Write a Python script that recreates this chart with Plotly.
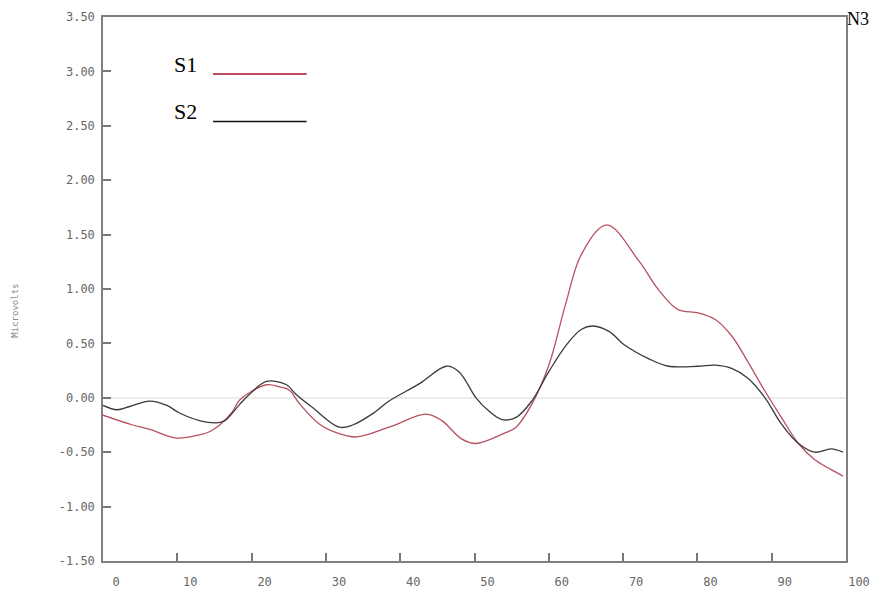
import plotly.graph_objects as go

# Sampled waveforms (time in ms-like units, amplitude in microvolts)
s1_x = [0, 4.0, 6.3, 9.9, 13.0, 14.4, 15.7, 17.4, 18.4, 22.0, 23.8, 25.1, 26.4, 29.1, 31.8,
        34.1, 38.5, 43.5, 45.6, 48.3, 50.2, 54.2, 55.6, 57.7, 60.0, 62.3, 64.4, 67.8, 72.1,
        74.8, 77.4, 80.1, 82.4, 84.6, 86.8, 89.1, 91.3, 93.6, 95.8, 98.0, 99.6]
s1_y = [-0.16, -0.25, -0.29, -0.37, -0.34, -0.31, -0.25, -0.13, -0.02, 0.12, 0.10, 0.07,
        -0.05, -0.24, -0.33, -0.36, -0.27, -0.15, -0.21, -0.38, -0.42, -0.32, -0.27, -0.06,
        0.30, 0.87, 1.32, 1.59, 1.26, 0.99, 0.81, 0.78, 0.72, 0.57, 0.33, 0.06, -0.18, -0.42,
        -0.57, -0.66, -0.72]

s2_x = [0, 1.9, 3.6, 6.3, 8.6, 10.3, 13.0, 15.3, 16.4, 18.4, 19.7, 22.0, 24.7, 26.0, 28.2,
        31.8, 33.6, 36.2, 38.5, 42.6, 46.2, 47.9, 50.2, 51.9, 53.7, 55.6, 57.7, 60.0, 62.3,
        64.4, 66.0, 68.1, 70.3, 73.4, 76.1, 80.1, 82.4, 84.6, 86.8, 89.1, 91.3, 93.6, 95.8,
        98.0, 99.6]
s2_y = [-0.07, -0.11, -0.08, -0.03, -0.07, -0.14, -0.21, -0.23, -0.21, -0.06, 0.03, 0.15,
        0.12, 0.03, -0.09, -0.27, -0.25, -0.15, -0.03, 0.13, 0.29, 0.24, 0.0, -0.12, -0.20,
        -0.18, -0.03, 0.24, 0.48, 0.63, 0.66, 0.61, 0.48, 0.36, 0.29, 0.29, 0.30, 0.27, 0.18,
        0.0, -0.24, -0.42, -0.50, -0.47, -0.50]

x_ticks = [0, 10, 20, 30, 40, 50, 60, 70, 80, 90, 100]
y_ticks = [-1.5, -1.0, -0.5, 0.0, 0.5, 1.0, 1.5, 2.0, 2.5, 3.0, 3.5]
y_tick_text = ["%.2f" % v for v in y_ticks]

legend_names = ["S1", "S2"]
legend_colors = ["#a8102c", "#111111"]

fig = go.Figure()
fig.add_trace(go.Scatter(x=s1_x, y=s1_y, mode="lines", name="S1",
                         line=dict(color="#b8505e", width=1.3, shape="spline", smoothing=1.0)))
fig.add_trace(go.Scatter(x=s2_x, y=s2_y, mode="lines", name="S2",
                         line=dict(color="#3a3a3a", width=1.3, shape="spline", smoothing=1.0)))

tick_font = dict(family="DejaVu Sans Mono", size=12, color="#666666")

fig.update_layout(
    width=880, height=599,
    margin=dict(l=103, r=32, t=10, b=34),
    paper_bgcolor="white", plot_bgcolor="white",
    showlegend=False,
    font=dict(family="DejaVu Sans Mono"),
    xaxis=dict(range=[0, 100], tickvals=x_ticks, ticktext=[str(v) for v in x_ticks],
               ticks="inside", ticklen=8, tickcolor="#777", tickwidth=1.5,
               showline=True, linecolor="#808080", linewidth=1.5, mirror=True,
               showgrid=False, zeroline=False, tickfont=tick_font,
               ticklabelshift=13, ticklabelstandoff=9),
    yaxis=dict(range=[-1.5, 3.5], tickvals=y_ticks, ticktext=y_tick_text,
               ticks="inside", ticklen=8, tickcolor="#777", tickwidth=1.5,
               showline=True, linecolor="#808080", linewidth=1.5, mirror=True,
               showgrid=False, zeroline=True, zerolinecolor="#ececec", zerolinewidth=2,
               tickfont=tick_font, ticklabelstandoff=4),
)

# Rotated axis caption
fig.add_annotation(text="Microvolts", xref="paper", yref="paper", x=-0.128, y=0.46,
                   textangle=-90, showarrow=False,
                   font=dict(family="DejaVu Sans Mono", size=9, color="#888"))

# Hand-made key: series name followed by a short rule in the series colour
key_rows = [0.913, 0.826]
for name, color, yy in zip(legend_names, legend_colors, key_rows):
    fig.add_annotation(text=name, xref="paper", yref="paper", x=0.093, y=yy,
                       xanchor="left", yanchor="middle", showarrow=False,
                       font=dict(family="Liberation Serif", size=22, color="black"))
    fig.add_shape(type="line", xref="paper", yref="paper",
                  x0=0.148, x1=0.274, y0=yy - 0.018, y1=yy - 0.018,
                  line=dict(color=color, width=1.5))

# Panel label in the top-right corner
fig.add_annotation(text="N3", xref="paper", yref="paper", x=1.0, y=1.0,
                   xanchor="left", yanchor="top", xshift=-1, yshift=10, showarrow=False,
                   font=dict(family="Liberation Serif", size=18, color="black"))

fig.write_html("out.html")
